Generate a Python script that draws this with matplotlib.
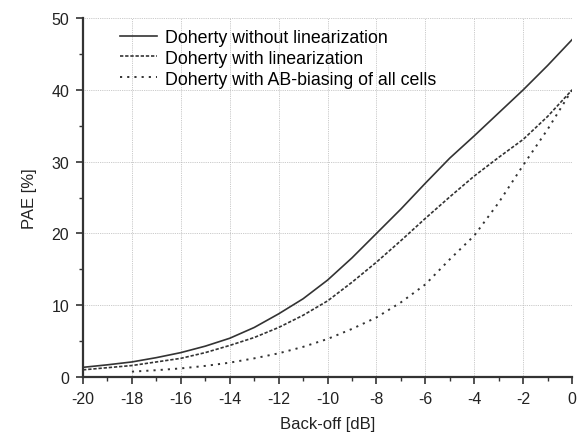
import matplotlib
matplotlib.use("Agg")
import matplotlib.pyplot as plt
from matplotlib.ticker import MultipleLocator

plt.rcParams['font.family'] = ['Liberation Sans', 'DejaVu Sans']
plt.rcParams['axes.unicode_minus'] = False

backoff = [-20, -19, -18, -17, -16, -15, -14, -13, -12, -11, -10,
           -9, -8, -7, -6, -5, -4, -3, -2, -1, 0]
pae_nolin = [1.35, 1.7, 2.1, 2.7, 3.4, 4.3, 5.4, 6.9, 8.8, 10.9, 13.5,
             16.6, 20.0, 23.4, 27.0, 30.5, 33.6, 36.8, 40.0, 43.4, 47.0]
pae_lin = [1.0, 1.3, 1.6, 2.1, 2.6, 3.4, 4.4, 5.5, 6.9, 8.6, 10.6,
           13.2, 16.0, 19.0, 22.1, 25.1, 28.0, 30.6, 33.1, 36.3, 40.0]
backoff_ab = [-18, -17, -16, -15, -14, -13, -12, -11, -10,
              -9, -8, -7, -6, -5, -4, -3, -2, -1, 0]
pae_ab = [0.75, 0.95, 1.2, 1.55, 2.0, 2.6, 3.3, 4.2, 5.3,
          6.7, 8.3, 10.4, 12.9, 16.4, 19.7, 24.3, 29.5, 34.5, 40.0]

labels = ["Doherty without linearization",
          "Doherty with linearization",
          "Doherty with AB-biasing of all cells"]

fig = plt.figure(figsize=(5.79, 4.35), dpi=100)
ax = fig.add_axes([0.1434, 0.131, 0.8446, 0.825])

c = '#333333'
ax.plot(backoff, pae_nolin, color=c, lw=1.2, ls='-', label=labels[0])
ax.plot(backoff, pae_lin, color=c, lw=1.2, ls=(0, (2.0, 1.1)), label=labels[1])
ax.plot(backoff_ab, pae_ab, color=c, lw=1.4, ls=(0, (1.1, 2.6)), label=labels[2])

ax.set_xlim(-20, 0)
ax.set_ylim(0, 50)
ax.xaxis.set_major_locator(MultipleLocator(2))
ax.xaxis.set_minor_locator(MultipleLocator(1))
ax.yaxis.set_major_locator(MultipleLocator(10))
ax.yaxis.set_minor_locator(MultipleLocator(5))

ax.grid(True, which='major', color='#b8b8b8', ls=(0, (1, 1.2)), lw=0.6)
ax.set_axisbelow(True)

for s in ['top', 'right']:
    ax.spines[s].set_visible(False)
for s in ['left', 'bottom']:
    ax.spines[s].set_linewidth(1.6)
    ax.spines[s].set_color('#333333')

ax.tick_params(which='major', direction='out', length=5, width=1.2, pad=5,
               colors='#333333', labelsize=11.5, labelcolor='#222222')
ax.tick_params(which='minor', direction='out', length=3, width=1.0,
               colors='#333333')

ax.set_xlabel("Back-off [dB]", fontsize=12, color='#222222', labelpad=7)
ax.set_ylabel("PAE [%]", fontsize=12, color='#222222', labelpad=10)

leg = ax.legend(loc='upper left', frameon=False, fontsize=12.8,
                handlelength=2.1, handletextpad=0.45, labelspacing=0.22,
                bbox_to_anchor=(0.042, 1.015))

fig.savefig("out.png", dpi=100)
